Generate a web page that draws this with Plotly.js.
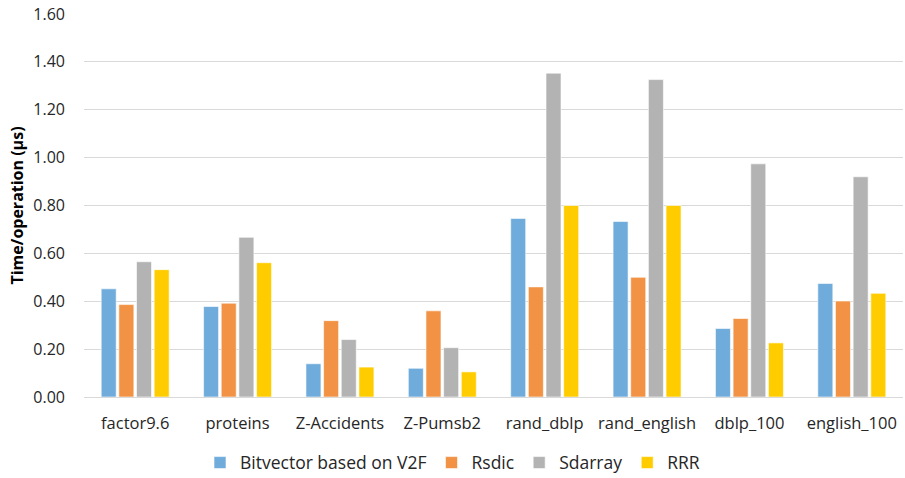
<!DOCTYPE html>
<html>
<head>
<meta charset="utf-8">
<script src="https://cdn.plot.ly/plotly-3.0.1.min.js"></script>
<style>
  html, body { margin: 0; padding: 0; background: #fff; }
  #chart { width: 905px; height: 478px; }
</style>
</head>
<body>
<div id="chart"></div>
<script>
// Datasets on the x axis
const datasets = ["factor9.6", "proteins", "Z-Accidents", "Z-Pumsb2", "rand_dblp", "rand_english", "dblp_100", "english_100"];

// Time per operation (µs) for each structure
const v2f     = [0.452, 0.378, 0.139, 0.120, 0.746, 0.733, 0.286, 0.474];
const rsdic   = [0.386, 0.392, 0.319, 0.360, 0.460, 0.500, 0.328, 0.401];
const sdarray = [0.565, 0.667, 0.240, 0.206, 1.353, 1.326, 0.974, 0.920];
const rrr     = [0.532, 0.561, 0.125, 0.105, 0.800, 0.800, 0.226, 0.433];

const yTicks = [0, 0.2, 0.4, 0.6, 0.8, 1.0, 1.2, 1.4, 1.6];

const FONT = "Open Sans, Lato, sans-serif";

function series(name, values, color) {
  return {
    type: "bar",
    name: name,
    x: datasets,
    y: values,
    marker: { color: color, line: { color: "rgba(255,255,255,0.6)", width: 1 } },
    hoverinfo: "x+y+name"
  };
}

const data = [
  series("Bitvector based on V2F", v2f, "#6facdc"),
  series("Rsdic", rsdic, "#f29244"),
  series("Sdarray", sdarray, "#b3b3b3"),
  series("RRR", rrr, "#ffcc00")
];

const layout = {
  width: 905,
  height: 478,
  margin: { l: 84, r: 2, t: 14, b: 81 },
  paper_bgcolor: "#ffffff",
  plot_bgcolor: "#ffffff",
  font: { family: FONT, size: 16, color: "#262626" },
  barmode: "group",
  bargap: 0.31,
  bargroupgap: 0.15,
  showlegend: true,
  legend: {
    orientation: "h",
    x: 0.5,
    xanchor: "center",
    xref: "container",
    y: 0.032,
    yref: "container",
    yanchor: "middle",
    font: { family: FONT, size: 17.5, color: "#262626" },
    itemwidth: 30,
    traceorder: "normal"
  },
  xaxis: {
    type: "category",
    showgrid: false,
    showline: false,
    zeroline: false,
    ticks: "",
    ticklabelstandoff: 14,
    tickfont: { family: FONT, size: 16.5, color: "#262626" }
  },
  yaxis: {
    range: [0, 1.6],
    tickvals: yTicks,
    ticktext: yTicks.map(v => v.toFixed(2)),
    showgrid: true,
    gridcolor: "#d9d9d9",
    gridwidth: 1,
    zeroline: true,
    zerolinecolor: "#d9d9d9",
    zerolinewidth: 1,
    showline: false,
    ticks: "",
    ticklabelstandoff: 18,
    tickfont: { family: FONT, size: 16, color: "#262626" },
    title: {
      text: "<b>Time/operation (μs)</b>",
      font: { family: FONT, size: 16, color: "#000000" },
      standoff: 5
    }
  }
};

Plotly.newPlot("chart", data, layout, { displayModeBar: false, staticPlot: true });
</script>
</body>
</html>
